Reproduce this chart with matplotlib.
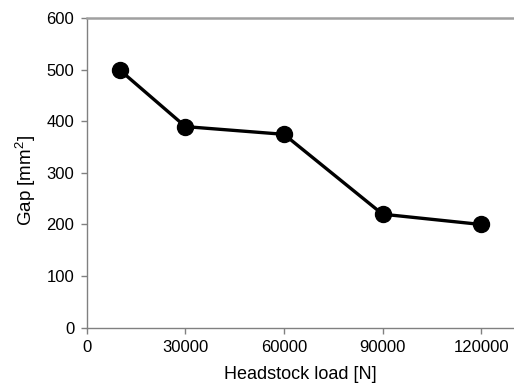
import matplotlib
matplotlib.use("Agg")
import matplotlib.pyplot as plt

load_n = [10000, 30000, 60000, 90000, 120000]
gap_mm2 = [500, 390, 375, 220, 200]
x_ticks = [0, 30000, 60000, 90000, 120000]
y_ticks = [0, 100, 200, 300, 400, 500, 600]

plt.rcParams['font.family'] = ['Liberation Sans', 'DejaVu Sans']
plt.rcParams['mathtext.fontset'] = 'custom'
plt.rcParams['mathtext.rm'] = 'Liberation Sans'

fig = plt.figure(figsize=(5.14, 3.92), dpi=100)
ax = fig.add_axes([0.169, 0.1645, 0.831, 0.7885])

ax.plot(load_n, gap_mm2, color='black', lw=2.4, marker='o', markersize=11.5, zorder=3)

ax.set_xlim(0, 130000)
ax.set_ylim(0, 600)
ax.set_xticks(x_ticks)
ax.set_yticks(y_ticks)
ax.tick_params(direction='out', length=4, width=1, color='#808080', labelsize=12, pad=5)

ax.spines['right'].set_visible(False)
ax.spines['top'].set_color('#a0a0a0')
ax.spines['top'].set_linewidth(1.8)
for s in ['left', 'bottom']:
    ax.spines[s].set_color('#808080')
    ax.spines[s].set_linewidth(1)

ax.set_xlabel('Headstock load [N]', fontsize=13, labelpad=8)
ax.set_ylabel('Gap [mm$^{\\mathregular{2}}$]', fontsize=13.5)
ax.yaxis.set_label_coords(-0.115, 0.475)

fig.savefig('out.png', dpi=100)
